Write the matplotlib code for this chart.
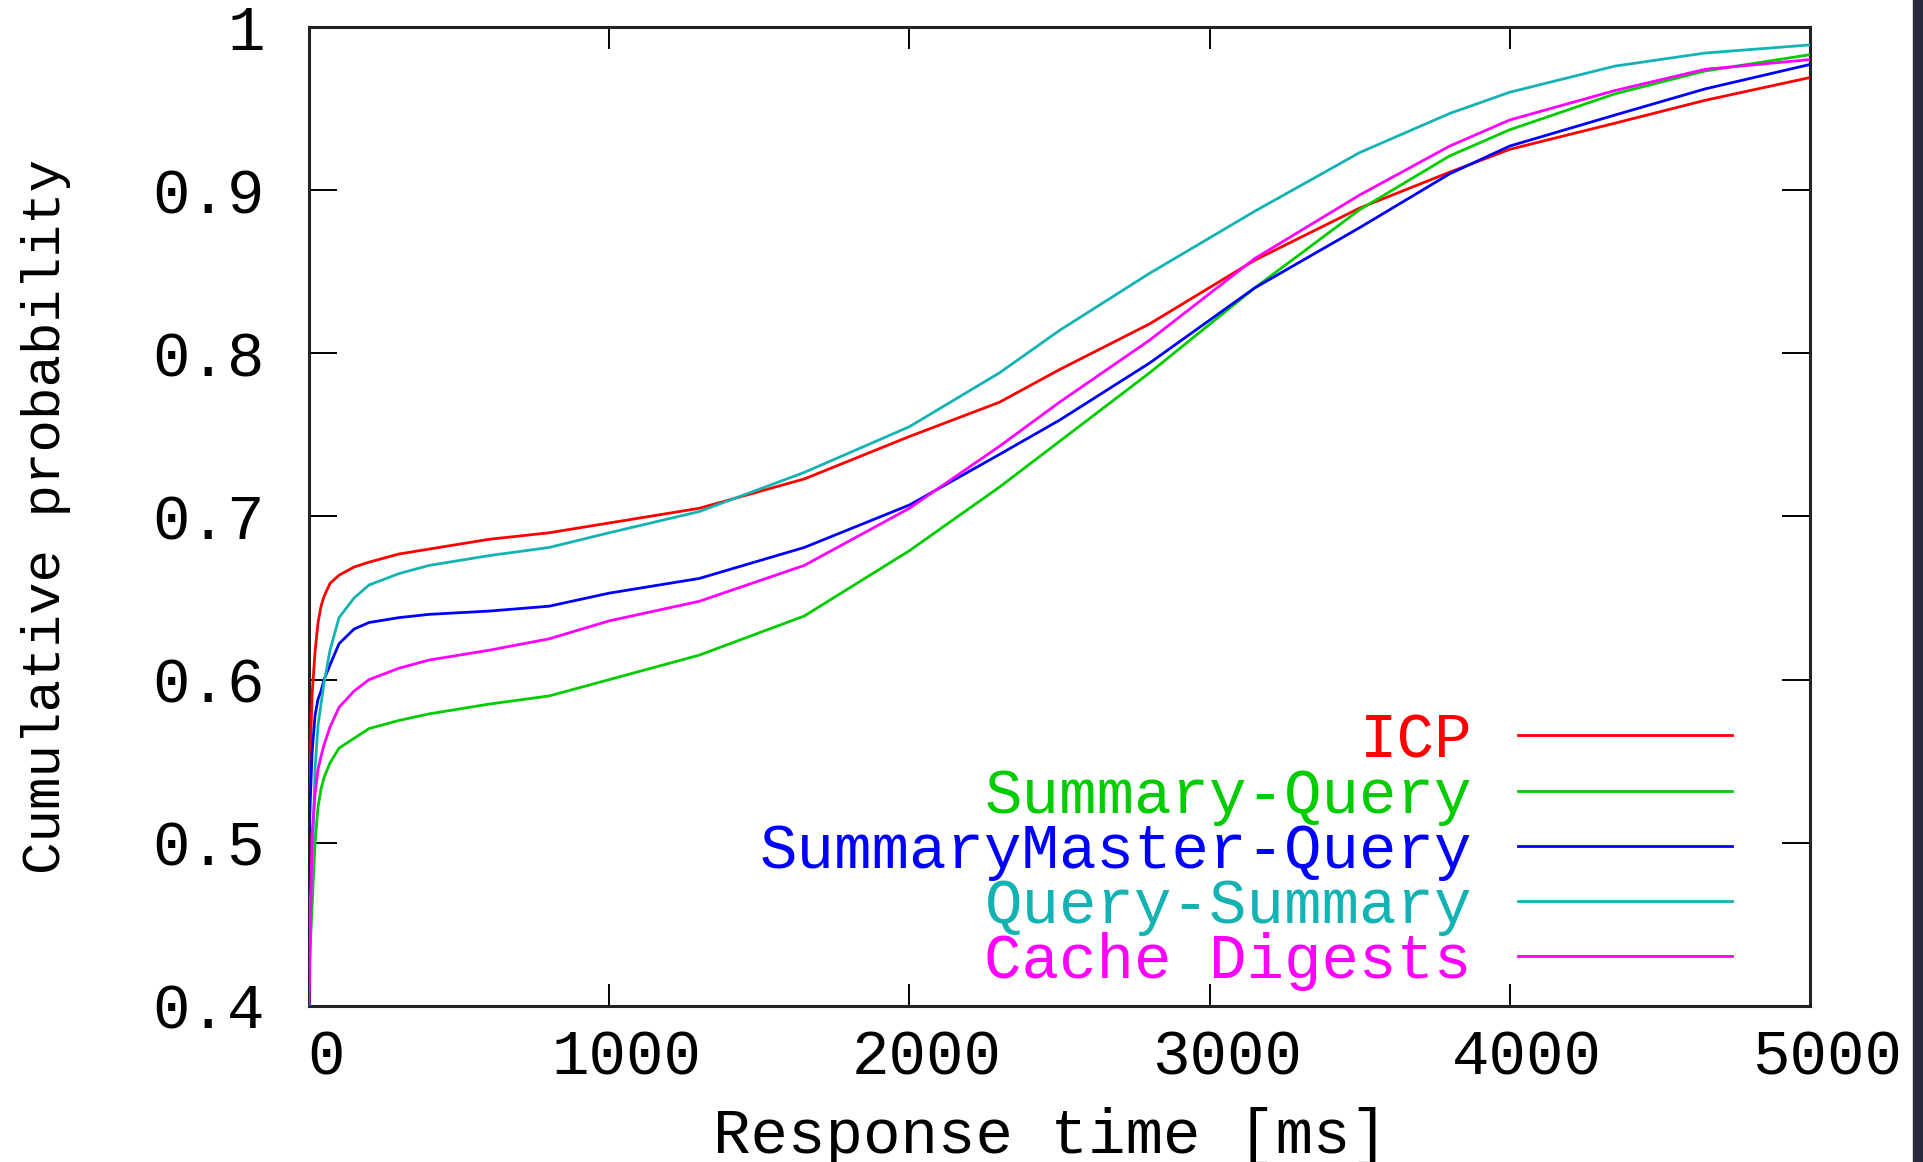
import matplotlib
matplotlib.use("Agg")
import matplotlib.pyplot as plt
import matplotlib.transforms as mtransforms
from matplotlib.patches import Rectangle

# response time [ms] sample points
time_ms = [0, 10, 20, 30, 40, 50, 70, 100, 150, 200, 300, 400, 600, 800,
           1000, 1300, 1650, 2000, 2300, 2500, 2800, 3150, 3500,
           3800, 4000, 4350, 4650, 5000]

icp = [0.530, 0.590, 0.617, 0.635, 0.645, 0.651, 0.659, 0.664, 0.669, 0.672,
       0.677, 0.680, 0.686, 0.690, 0.696, 0.705, 0.723, 0.749, 0.770, 0.790,
       0.818, 0.857, 0.889, 0.911, 0.925, 0.941, 0.955, 0.969]
summary_query = [0.420, 0.460, 0.500, 0.522, 0.533, 0.540, 0.549, 0.558, 0.564,
                 0.570, 0.575, 0.579, 0.585, 0.590, 0.600, 0.615, 0.639, 0.679,
                 0.718, 0.746, 0.788, 0.840, 0.888, 0.921, 0.937, 0.959,
                 0.973, 0.983]
summarymaster_query = [0.505, 0.555, 0.578, 0.588, 0.593, 0.600, 0.609, 0.622,
                       0.631, 0.635, 0.638, 0.640, 0.642, 0.645, 0.653, 0.662,
                       0.681, 0.707, 0.738, 0.759, 0.794, 0.840, 0.877,
                       0.910, 0.927, 0.946, 0.962, 0.977]
query_summary = [0.450, 0.480, 0.545, 0.572, 0.585, 0.598, 0.618, 0.638, 0.650,
                 0.658, 0.665, 0.670, 0.676, 0.681, 0.690, 0.703, 0.727, 0.755,
                 0.788, 0.814, 0.849, 0.887, 0.923, 0.947, 0.960, 0.976,
                 0.984, 0.989]
cache_digests = [0.400, 0.505, 0.530, 0.545, 0.553, 0.560, 0.571, 0.583, 0.593,
                 0.600, 0.607, 0.612, 0.618, 0.625, 0.636, 0.648, 0.670, 0.705,
                 0.743, 0.770, 0.808, 0.858, 0.897, 0.927, 0.943, 0.961,
                 0.974, 0.980]

series = [
    ("ICP", icp, "#ff0000"),
    ("Summary-Query", summary_query, "#00cc00"),
    ("SummaryMaster-Query", summarymaster_query, "#0000ff"),
    ("Query-Summary", query_summary, "#13b3b3"),
    ("Cache Digests", cache_digests, "#ff00ff"),
]

x_ticks = [0, 1000, 2000, 3000, 4000, 5000]
y_ticks = [0.4, 0.5, 0.6, 0.7, 0.8, 0.9, 1.0]
y_tick_labels = ["0.4", "0.5", "0.6", "0.7", "0.8", "0.9", "1"]

FONT = "Liberation Mono"
FS = 45
plt.rcParams["font.family"] = FONT

fig = plt.figure(figsize=(19.23, 11.62), dpi=100)
ax = fig.add_axes([0.1607, 0.1343, 0.7805, 0.8425])

for label, vals, color in series:
    ax.plot(time_ms, vals, color=color, lw=2.0, label=label, zorder=3)

ax.set_xlim(0, 5000)
ax.set_ylim(0.4, 1.0)
ax.set_xticks(x_ticks)
ax.set_xticklabels([str(t) for t in x_ticks])
ax.set_yticks(y_ticks)
ax.set_yticklabels(y_tick_labels)

for sp in ax.spines.values():
    sp.set_linewidth(2.2)
    sp.set_color("#222222")

ax.tick_params(axis="x", direction="in", length=16, width=1.4, top=True,
               labelsize=FS, pad=16, colors="black")
ax.tick_params(axis="y", direction="in", length=20, width=1.4, right=True,
               labelsize=FS, pad=32, colors="black")

# gnuplot places x tick labels a little right of the tick
shift = mtransforms.ScaledTranslation(17 / 100, 0, fig.dpi_scale_trans)
for t in ax.get_xticklabels():
    t.set_transform(t.get_transform() + shift)

ax.set_xlabel("Response time [ms]", fontsize=FS, va="center")
ax.xaxis.set_label_coords(0.494, -0.133)
ax.set_ylabel("Cumulative probability", fontsize=39, va="center")
ax.yaxis.set_label_coords(-0.1750, 0.5)

leg = ax.legend(loc="center right", bbox_to_anchor=(0.948, 0.158),
                frameon=False, markerfirst=False, fontsize=FS,
                handlelength=3.42, handletextpad=0.74, labelspacing=-0.06,
                borderpad=0, borderaxespad=0)
for txt, (_, _, color) in zip(leg.get_texts(), series):
    txt.set_color(color)
for line in leg.get_lines():
    line.set_linewidth(2.0)

# dark strip at the right edge of the screenshot
fig.add_artist(Rectangle((0.9948, 0), 0.0052, 1, transform=fig.transFigure,
                         color="#262a3c", zorder=10))

fig.savefig("out.png", dpi=100)
